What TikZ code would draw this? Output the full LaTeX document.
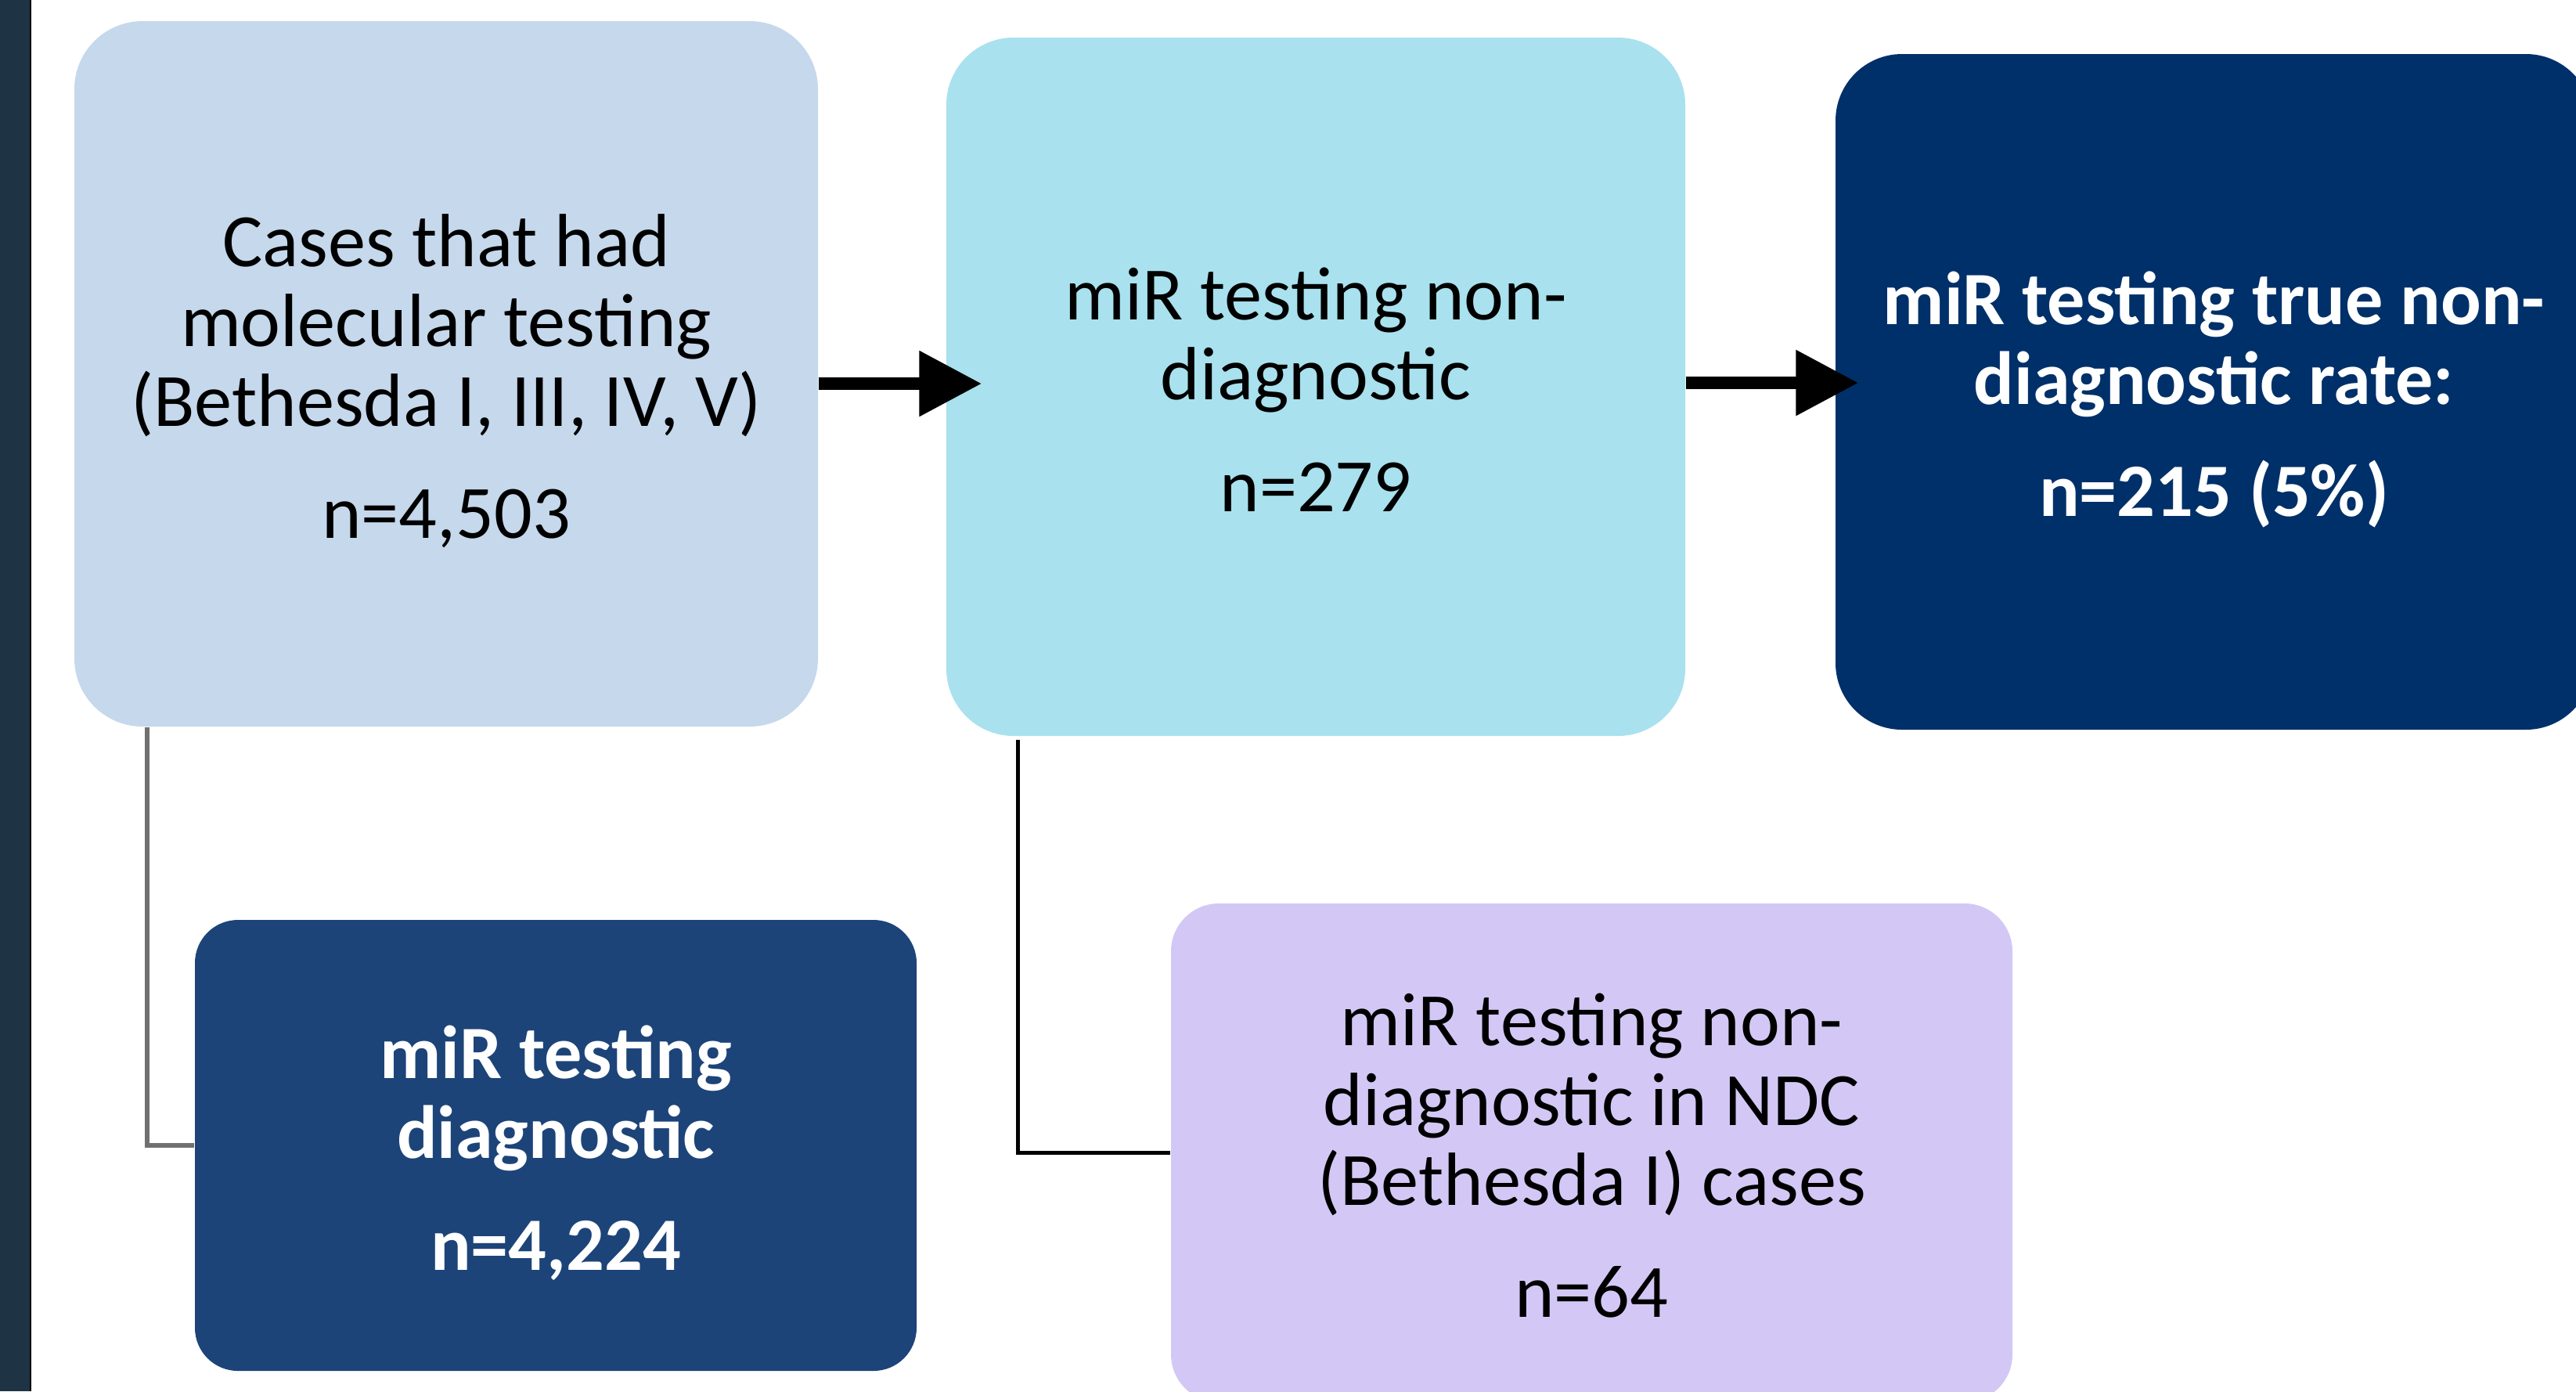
\documentclass[tikz,border=0pt]{standalone}
\usepackage{fontspec}
\setmainfont{Carlito}
\usetikzlibrary{arrows.meta}
\definecolor{sidebar}{HTML}{1E3344}
\definecolor{paleblue}{HTML}{C5D8EC}
\definecolor{cyanbox}{HTML}{A9E1EE}
\definecolor{navybox}{HTML}{003069}
\definecolor{bluebox}{HTML}{1C4479}
\definecolor{lilacbox}{HTML}{D3C8F5}
\definecolor{linkgray}{HTML}{707070}
\newcommand\topstrut{\rule{0pt}{26pt}}
\tikzset{
  stagebox/.style={rectangle, inner sep=0pt, align=center,
    font=\fontsize{27.4}{29}\selectfont,
    execute at end node={\rule[-5pt]{0pt}{0pt}}},
  flow/.style={line width=0.16cm, -{Triangle[length=0.8cm,width=0.8cm]}},
  branch/.style={line width=0.055cm}
}
\begin{document}
\begin{tikzpicture}
			\useasboundingbox (0,0) rectangle (32.91,-17.77);
			\clip (0,0) rectangle (32.91,-17.77);
			% side bar
			\fill[sidebar] (0,0) rectangle (0.38,-17.77);
			\fill[black] (0.38,0) rectangle (0.40,-17.77);
			
			% top row
			\node[stagebox, fill=paleblue, rounded corners=0.87cm,
			  minimum width=9.5cm, minimum height=9.01cm] (cases) at (5.70,-4.775)
			  {\topstrut Cases that had\\molecular testing\\(Bethesda I, III, IV, V)\\[11.7pt]n=4,503};
			\node[stagebox, fill=cyanbox, rounded corners=0.86cm,
			  minimum width=9.44cm, minimum height=8.92cm] (nondiag) at (16.81,-4.94)
			  {\topstrut miR testing non-\\diagnostic\\[11.7pt]n=279};
			\node[stagebox, fill=navybox, text=white, rounded corners=0.85cm,
			  minimum width=9.67cm, minimum height=8.63cm] (truerate) at (28.285,-5.005)
			  {\topstrut\bfseries miR testing true non-\\\bfseries diagnostic rate:\\[11.7pt]\bfseries n=215 (5\%)};
			
			% bottom row
			\node[stagebox, fill=bluebox, text=white, rounded corners=0.55cm,
			  minimum width=9.22cm, minimum height=5.76cm] (diag) at (7.10,-14.63)
			  {\topstrut\bfseries miR testing\\\bfseries diagnostic\\[11.7pt]\bfseries n=4,224};
			\node[stagebox, fill=lilacbox, rounded corners=0.61cm,
			  minimum width=10.75cm, minimum height=6.37cm] (ndc) at (20.335,-14.725)
			  {\topstrut miR testing non-\\diagnostic in NDC\\(Bethesda I) cases\\[11.7pt]n=64};
			
			% arrows
			\draw[flow] ([yshift=0.04cm]cases.east |- nondiag.west) -- ([xshift=0.46cm,yshift=0.04cm]nondiag.west);
			\draw[flow] ([yshift=0.05cm]nondiag.east) -- ([xshift=0.30cm,yshift=0.05cm]truerate.west |- nondiag.east);
			
			% branches
			\draw[branch, linkgray, line width=0.06cm] ([xshift=0.94cm]cases.south west) |- (diag.west);
			\draw[branch, black] ([xshift=0.92cm,yshift=-0.04cm]nondiag.south west) |- (ndc.west);
		\end{tikzpicture}
\end{document}
